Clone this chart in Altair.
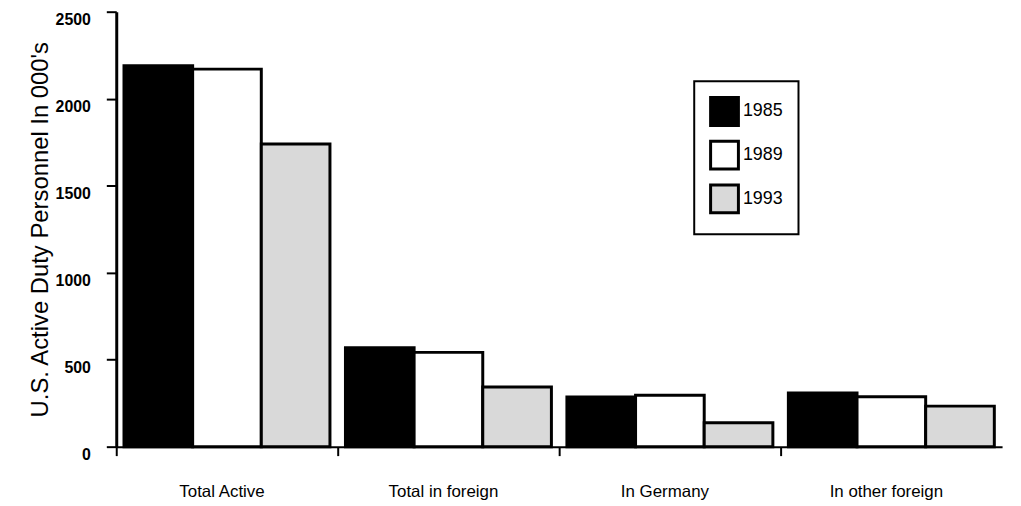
import altair as alt
import pandas as pd

categories = ["Total Active", "Total in foreign", "In Germany", "In other foreign"]
years = ["1985", "1989", "1993"]
v1985 = [2190, 568, 286, 308]
v1989 = [2170, 542, 295, 287]
v1993 = [1740, 343, 138, 233]
colors = ["#000000", "#ffffff", "#d9d9d9"]

rows = []
for yr, vals in zip(years, [v1985, v1989, v1993]):
    for c, v in zip(categories, vals):
        rows.append({"category": c, "year": yr, "value": v})
df = pd.DataFrame(rows)

FONT = "Liberation Sans"

chart = alt.Chart(df).mark_bar(stroke="black", strokeWidth=3, opacity=1).encode(
    x=alt.X("category:N", sort=categories,
            scale=alt.Scale(paddingInner=0.07, paddingOuter=0.035),
            axis=alt.Axis(title=None, labelAngle=0, labelFontSize=17, labelFont=FONT,
                          labelColor="black", labelPadding=28, tickOffset=-111.5, labelOffset=106,
                          tickSize=9, tickWidth=2, tickColor="black",
                          domainColor="black", domainWidth=2)),
    xOffset=alt.XOffset("year:N", sort=years, scale=alt.Scale(paddingInner=0, paddingOuter=0)),
    y=alt.Y("value:Q", scale=alt.Scale(domain=[0, 2500], nice=False),
            axis=alt.Axis(title="U.S. Active Duty Personnel In 000's", values=[0, 500, 1000, 1500, 2000, 2500],
                          format="d",
                          titleFontSize=24, titleFont=FONT, titleFontWeight="normal", titleColor="black",
                          titlePadding=3,
                          labelFontSize=16, labelFont=FONT, labelFontWeight="bold", labelColor="black",
                          labelOffset=8, labelPadding=16, tickSize=10, tickWidth=2, tickColor="black",
                          domainColor="black", domainWidth=3, grid=False)),
    color=alt.Color("year:N", sort=years, scale=alt.Scale(domain=years, range=colors),
                    legend=alt.Legend(title=None, orient="none", legendX=582, legendY=70,
                                      symbolType="square", symbolSize=784, symbolStrokeColor="black",
                                      symbolStrokeWidth=3, symbolOpacity=1, labelFontSize=18,
                                      labelFont=FONT, labelColor="black", labelOffset=3,
                                      rowPadding=3, padding=15, strokeColor="black")),
).properties(
    width=892, height=438,
    autosize=alt.AutoSizeParams(type="none"),
    padding={"left": 109, "top": 2, "right": 11, "bottom": 56},
).configure_view(stroke=None).configure_legend(strokeWidth=2)

chart.save("out.html", embed_options={"renderer": "svg", "actions": False})
